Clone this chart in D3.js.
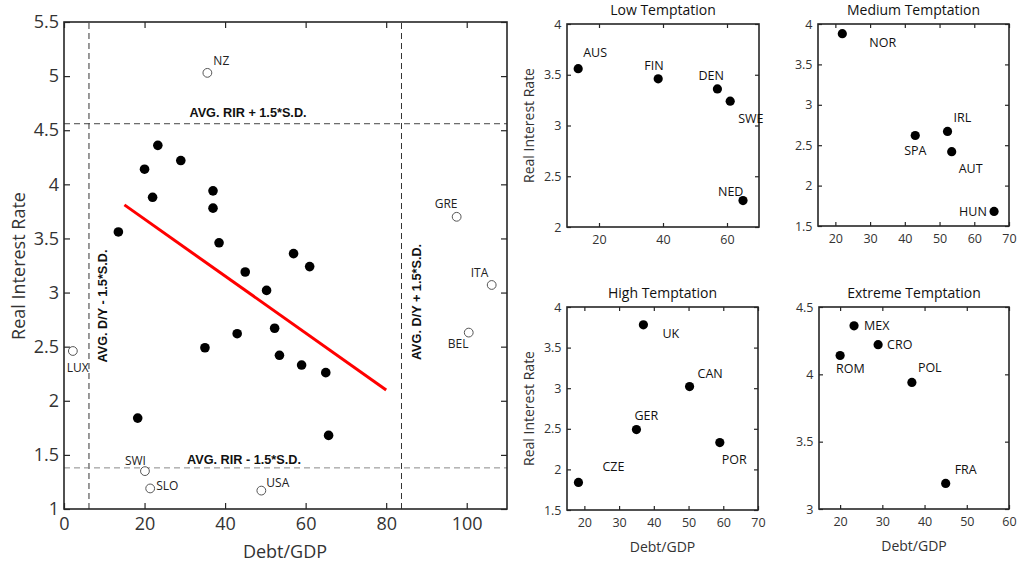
<!DOCTYPE html>
<html>
<head>
<meta charset="utf-8">
<script src="https://cdn.jsdelivr.net/npm/d3@7"></script>
<style>
  html, body { margin: 0; padding: 0; background: #fff; }
  svg { display: block; }
</style>
</head>
<body>
<svg id="chart" width="1017" height="569"></svg>
<script>
// ---- Data: Debt/GDP (x) vs real interest rate (y) by country ----
const lowNames = ["AUS", "FIN", "DEN", "SWE", "NED"];
const lowDebt  = [13.5, 38.5, 57.0, 61.0, 65.0];
const lowRate  = [3.56, 3.46, 3.36, 3.24, 2.26];

const medNames = ["NOR", "SPA", "IRL", "AUT", "HUN"];
const medDebt  = [22.0, 43.0, 52.3, 53.5, 65.7];
const medRate  = [3.88, 2.62, 2.67, 2.42, 1.68];

const highNames = ["UK", "CAN", "GER", "POR", "CZE"];
const highDebt  = [37.0, 50.3, 35.0, 59.0, 18.3];
const highRate  = [3.78, 3.02, 2.49, 2.33, 1.84];

const extNames = ["MEX", "CRO", "ROM", "POL", "FRA"];
const extDebt  = [23.3, 29.0, 20.0, 37.0, 45.0];
const extRate  = [4.36, 4.22, 4.14, 3.94, 3.19];

// outliers excluded from the groups (open markers)
const outNames = ["NZ", "GRE", "ITA", "BEL", "LUX", "SWI", "SLO", "USA"];
const outDebt  = [35.6, 97.5, 106.2, 100.5, 2.2, 20.1, 21.4, 49.0];
const outRate  = [5.03, 3.70, 3.07, 2.63, 2.46, 1.35, 1.19, 1.17];

// fitted trend line endpoints
const fitDebt = [15, 80];
const fitRate = [3.81, 2.10];

// outlier thresholds
const dyLow = 6.2, dyHigh = 83.8;
const rirLow = 1.38, rirHigh = 4.56;

// tick values
const mainXTicks = [0, 20, 40, 60, 80, 100];
const mainYTicks = [1, 1.5, 2, 2.5, 3, 3.5, 4, 4.5, 5, 5.5];

// label placement (pixel offsets from the marker, text anchored at start)
const labelOffsets = {
  NZ: [6, -8], GRE: [-22, -9], ITA: [-21, -8], BEL: [-21, 15], LUX: [-6, 21],
  SWI: [-20, -6], SLO: [6, 2], USA: [5, -4],
  AUS: [5, -12], FIN: [-14, -9], DEN: [-19, -9], SWE: [8, 22], NED: [-25, -5],
  NOR: [27, 13], SPA: [-11, 19], IRL: [6, -9], AUT: [7, 21], HUN: [-35, 5],
  UK: [19, 13], CAN: [8, -9], GER: [-2, -10], POR: [2, 21], CZE: [24, -11],
  MEX: [10, 4], CRO: [9, 4], ROM: [-4, 18], POL: [6, -10], FRA: [9, -9]
};

// ---- Drawing ----
const svg = d3.select("#chart");
const FONT = "'Open Sans', sans-serif";
const BOLD = "'Liberation Sans', Arial, sans-serif";
const AXIS = "#262626";
const TEXT = "#333";

function zip(names, xs, ys) {
  return names.map((n, i) => ({ name: n, x: xs[i], y: ys[i] }));
}

function drawFrame(g, x, y, xTicks, yTicks, opts) {
  const [x0, x1] = x.range();
  const [y0, y1] = y.range();
  const fmt = d => d3.format("~g")(d);

  const bottom = g.append("g").attr("transform", `translate(0,${y0})`)
    .call(d3.axisBottom(x).tickValues(xTicks).tickSize(-opts.tick).tickPadding(opts.xpad).tickFormat(fmt));
  const top = g.append("g").attr("transform", `translate(0,${y1})`)
    .call(d3.axisTop(x).tickValues(xTicks).tickSize(-opts.tick).tickFormat(""));
  const left = g.append("g").attr("transform", `translate(${x0},0)`)
    .call(d3.axisLeft(y).tickValues(yTicks).tickSize(-opts.tick).tickPadding(opts.ypad).tickFormat(fmt));
  const right = g.append("g").attr("transform", `translate(${x1},0)`)
    .call(d3.axisRight(y).tickValues(yTicks).tickSize(-opts.tick).tickFormat(""));

  [bottom, top, left, right].forEach(a => {
    a.select(".domain").remove();
    a.selectAll(".tick line").attr("stroke", AXIS).attr("stroke-width", 1.2);
    a.selectAll(".tick text").attr("fill", TEXT)
      .style("font-family", FONT).style("font-size", opts.font + "px");
  });

  g.append("rect")
    .attr("x", x0).attr("y", y1)
    .attr("width", x1 - x0).attr("height", y0 - y1)
    .attr("fill", "none").attr("stroke", AXIS).attr("stroke-width", 1.6);
}

// ---------- main panel ----------
{
  const g = svg.append("g");
  const x = d3.scaleLinear().domain([0, 110]).range([64, 507]);
  const y = d3.scaleLinear().domain([1, 5.5]).range([509, 22]);

  // threshold lines
  const dash = "6,4";
  g.append("line").attr("x1", x(dyLow)).attr("x2", x(dyLow)).attr("y1", y(1)).attr("y2", y(5.5))
    .attr("stroke", "#333").attr("stroke-width", 1).attr("stroke-dasharray", dash);
  g.append("line").attr("x1", x(dyHigh)).attr("x2", x(dyHigh)).attr("y1", y(1)).attr("y2", y(5.5))
    .attr("stroke", "#333").attr("stroke-width", 1).attr("stroke-dasharray", dash);
  g.append("line").attr("x1", x(0)).attr("x2", x(110)).attr("y1", y(rirHigh)).attr("y2", y(rirHigh))
    .attr("stroke", "#444").attr("stroke-width", 1).attr("stroke-dasharray", dash);
  g.append("line").attr("x1", x(0)).attr("x2", x(110)).attr("y1", y(rirLow)).attr("y2", y(rirLow))
    .attr("stroke", "#888").attr("stroke-width", 1).attr("stroke-dasharray", dash);

  // threshold annotations
  const ann = g.append("g").style("font-family", BOLD).style("font-weight", "bold")
    .style("font-size", "12.7px").attr("fill", "#111");
  ann.append("text").attr("x", 248).attr("y", y(rirHigh) - 7).attr("text-anchor", "middle")
    .text("AVG. RIR + 1.5*S.D.");
  ann.append("text").attr("x", 244).attr("y", y(rirLow) - 4).attr("text-anchor", "middle")
    .text("AVG. RIR - 1.5*S.D.");
  ann.append("text").attr("text-anchor", "middle")
    .attr("transform", `translate(${x(dyLow) + 18},306) rotate(-90)`)
    .text("AVG. D/Y - 1.5*S.D.");
  ann.append("text").attr("text-anchor", "middle")
    .attr("transform", `translate(${x(dyHigh) + 20},302) rotate(-90)`)
    .text("AVG. D/Y + 1.5*S.D.");

  drawFrame(g, x, y, mainXTicks, mainYTicks, { tick: 6, xpad: 8, ypad: 5, font: 18 });

  // fitted line
  g.append("line")
    .attr("x1", x(fitDebt[0])).attr("y1", y(fitRate[0]))
    .attr("x2", x(fitDebt[1])).attr("y2", y(fitRate[1]))
    .attr("stroke", "#ff0000").attr("stroke-width", 3);

  // grouped countries
  const grouped = [].concat(
    zip(lowNames, lowDebt, lowRate), zip(medNames, medDebt, medRate),
    zip(highNames, highDebt, highRate), zip(extNames, extDebt, extRate));
  g.selectAll("circle.in").data(grouped).enter().append("circle")
    .attr("class", "in").attr("cx", d => x(d.x)).attr("cy", d => y(d.y))
    .attr("r", 4.8).attr("fill", "#000");

  // outliers
  const outs = zip(outNames, outDebt, outRate);
  g.selectAll("circle.out").data(outs).enter().append("circle")
    .attr("class", "out").attr("cx", d => x(d.x)).attr("cy", d => y(d.y))
    .attr("r", 4.4).attr("fill", "#fff").attr("stroke", "#555").attr("stroke-width", 1);
  g.selectAll("text.out").data(outs).enter().append("text")
    .attr("class", "out")
    .attr("x", d => x(d.x) + labelOffsets[d.name][0])
    .attr("y", d => y(d.y) + labelOffsets[d.name][1])
    .style("font-family", FONT).style("font-size", "12px").attr("fill", "#222")
    .text(d => d.name);

  // axis titles
  g.append("text").attr("x", 285).attr("y", 558).attr("text-anchor", "middle")
    .style("font-family", FONT).style("font-size", "18px").attr("fill", TEXT)
    .text("Debt/GDP");
  g.append("text").attr("text-anchor", "middle")
    .attr("transform", "translate(25,266) rotate(-90)")
    .style("font-family", FONT).style("font-size", "18px").attr("fill", TEXT)
    .text("Real Interest Rate");
}

// ---------- group panels ----------
const panels = [
  { title: "Low Temptation", names: lowNames, xs: lowDebt, ys: lowRate,
    xd: [10, 70], xt: [20, 40, 60], yd: [2, 4], yt: [2, 2.5, 3, 3.5, 4],
    xr: [567, 759], yr: [227, 24], ylab: true, xlab: false },
  { title: "Medium Temptation", names: medNames, xs: medDebt, ys: medRate,
    xd: [15, 70], xt: [20, 30, 40, 50, 60, 70], yd: [1.5, 4], yt: [1.5, 2, 2.5, 3, 3.5, 4],
    xr: [818, 1009], yr: [226, 24], ylab: false, xlab: false },
  { title: "High Temptation", names: highNames, xs: highDebt, ys: highRate,
    xd: [15, 70], xt: [20, 30, 40, 50, 60, 70], yd: [1.5, 4], yt: [1.5, 2, 2.5, 3, 3.5, 4],
    xr: [567, 758], yr: [510, 307], ylab: true, xlab: true },
  { title: "Extreme Temptation", names: extNames, xs: extDebt, ys: extRate,
    xd: [15, 60], xt: [20, 30, 40, 50, 60], yd: [3, 4.5], yt: [3, 3.5, 4, 4.5],
    xr: [819, 1009], yr: [509, 307], ylab: false, xlab: true }
];

panels.forEach(p => {
  const g = svg.append("g");
  const x = d3.scaleLinear().domain(p.xd).range(p.xr);
  const y = d3.scaleLinear().domain(p.yd).range(p.yr);
  drawFrame(g, x, y, p.xt, p.yt, { tick: 4, xpad: 8, ypad: 5.5, font: 12.5 });

  const pts = zip(p.names, p.xs, p.ys);
  g.selectAll("circle").data(pts).enter().append("circle")
    .attr("cx", d => x(d.x)).attr("cy", d => y(d.y))
    .attr("r", 4.6).attr("fill", "#000");
  g.selectAll("text.lab").data(pts).enter().append("text")
    .attr("class", "lab")
    .attr("x", d => x(d.x) + labelOffsets[d.name][0])
    .attr("y", d => y(d.y) + labelOffsets[d.name][1])
    .style("font-family", FONT).style("font-size", "12.5px").attr("fill", "#111")
    .text(d => d.name);

  const cx = (p.xr[0] + p.xr[1]) / 2;
  g.append("text").attr("x", cx).attr("y", p.yr[1] - 9).attr("text-anchor", "middle")
    .style("font-family", FONT).style("font-size", "14px").attr("fill", "#111")
    .text(p.title);
  if (p.xlab) {
    g.append("text").attr("x", cx).attr("y", p.yr[0] + 42).attr("text-anchor", "middle")
      .style("font-family", FONT).style("font-size", "14px").attr("fill", TEXT)
      .text("Debt/GDP");
  }
  if (p.ylab) {
    g.append("text").attr("text-anchor", "middle")
      .attr("transform", `translate(534,${(p.yr[0] + p.yr[1]) / 2}) rotate(-90)`)
      .style("font-family", FONT).style("font-size", "14px").attr("fill", TEXT)
      .text("Real Interest Rate");
  }
});
</script>
</body>
</html>
